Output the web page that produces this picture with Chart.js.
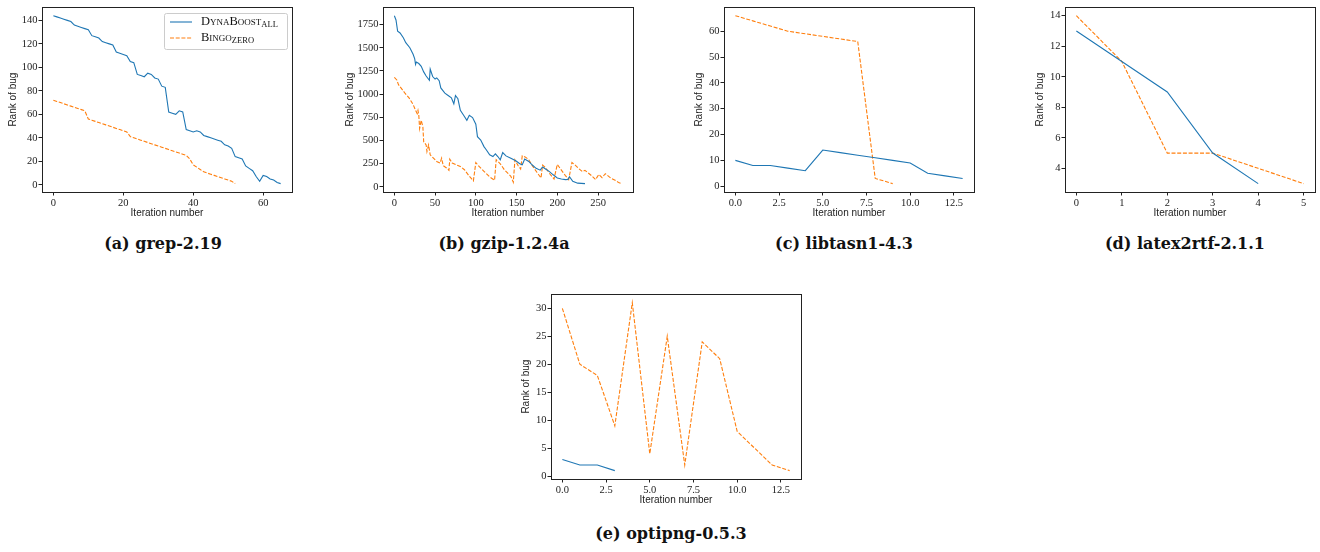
<!DOCTYPE html>
<html>
<head>
<meta charset="utf-8">
<script src="https://cdn.jsdelivr.net/npm/chart.js@4/dist/chart.umd.min.js"></script>
<style>
  body { margin: 0; background: #fff; width: 1320px; height: 552px; position: relative; overflow: hidden; }
  canvas { position: absolute; }
  .cap { position: absolute; font: bold 16px 'DejaVu Serif'; transform: translate(-50%, -50%); white-space: nowrap; color: #111; }
</style>
</head>
<body>
<div class="cap" style="left:163px;top:243px">(a) grep-2.19</div>
<div class="cap" style="left:504px;top:243px">(b) gzip-1.2.4a</div>
<div class="cap" style="left:844px;top:243px">(c) libtasn1-4.3</div>
<div class="cap" style="left:1185px;top:243px">(d) latex2rtf-2.1.1</div>
<div class="cap" style="left:671px;top:533px">(e) optipng-0.5.3</div>
<script>
// series names (legend in panel a)
const legendNames = ['DynaBoost', 'Bingo'];
const legendSubs = ['ALL', 'ZERO'];

// (a) grep-2.19 – one value per iteration
const grepDyna = [144,143,142,141,140,139,136,135,134,133,132,127,126,125,122,121,120,119,113,112,111,110,105,104,94,93,92,95,94,91,90,84,83,62,61,60,63,62,47,46,45,46,45,42,41,40,39,38,37,34,33,31,24,23,22,16,14,12,7,3,8,7,5,4,2,1];
const grepBingo = [72,71,70,69,68,67,66,65,64,63,56,55,54,53,52,51,50,49,48,47,46,45,41,40,39,38,37,36,35,34,33,32,31,30,29,28,27,26,25,22,17,15,13,11,10,9,8,7,6,5,4,3,1];
const grepXTicks = [0, 20, 40, 60];
const grepYTicks = [0, 20, 40, 60, 80, 100, 120, 140];

// (b) gzip-1.2.4a – read at selected iterations
const gzipDynaX = [0,2,4,7,11,14,19,23,25,26,27,30,33,36,39,43,44,47,50,52,55,57,62,66,70,73,75,78,81,85,89,92,96,100,102,106,110,113,117,121,124,127,130,133,137,143,149,154,157,160,165,170,174,179,182,186,190,195,200,205,210,213,215,219,225,234];
const gzipDynaY = [1846,1800,1680,1660,1608,1555,1501,1430,1380,1320,1345,1330,1300,1240,1195,1150,1270,1190,1163,1175,1145,1067,1010,985,960,896,985,950,825,772,718,772,747,676,541,505,434,398,345,327,356,327,292,370,334,309,281,249,238,299,274,230,200,180,214,190,167,130,96,85,78,80,110,60,40,35];
const gzipBingoX = [0,3,5,9,13,18,23,26,28,29,30,31,33,35,36,39,40,42,44,48,52,56,58,60,64,67,68,71,76,81,86,92,97,100,104,110,117,123,125,130,135,143,146,148,152,155,157,161,165,170,175,180,182,186,190,196,200,204,210,214,218,222,226,231,234,238,242,247,251,255,259,266,271,276,279];
const gzipBingoY = [1181,1153,1103,1057,1010,960,889,825,790,825,772,630,718,647,487,452,381,452,345,309,274,256,309,228,203,178,299,256,238,220,185,114,64,263,220,167,107,71,292,249,185,114,50,292,228,192,334,320,292,220,157,96,235,203,149,85,242,192,121,78,263,235,199,164,178,149,121,78,135,100,142,92,71,43,36];
const gzipXTicks = [0, 50, 100, 150, 200, 250];
const gzipYTicks = [0, 250, 500, 750, 1000, 1250, 1500, 1750];

// (c) libtasn1-4.3
const tasnDyna = [10,8,8,7,6,14,13,12,11,10,9,5,4,3];
const tasnBingo = [66,64,62,60,59,58,57,56,3,1];
const tasnXTicks = [0, 2.5, 5, 7.5, 10, 12.5];
const tasnYTicks = [0, 10, 20, 30, 40, 50, 60];

// (d) latex2rtf-2.1.1
const latexDyna = [13,11,9,5,3];
const latexBingo = [14,11,5,5,4,3];
const latexXTicks = [0, 1, 2, 3, 4, 5];
const latexYTicks = [4, 6, 8, 10, 12, 14];

// (e) optipng-0.5.3
const optiDyna = [3,2,2,1];
const optiBingo = [30,20,18,9,31,4,25,2,24,21,8,5,2,1];
const optiXTicks = [0, 2.5, 5, 7.5, 10, 12.5];
const optiYTicks = [0, 5, 10, 15, 20, 25, 30];

const BLUE = '#1f77b4', ORANGE = '#ff7f0e';
const PLOT_W = 250, PLOT_H = 186, PAD_T = 6, PAD_R = 5, X_H = 31;

const byIndex = arr => arr.map((v, i) => ({ x: i, y: v }));
const byXY = (xs, ys) => xs.map((x, i) => ({ x, y: ys[i] }));

const frame = {
  id: 'frame',
  afterDatasetsDraw(chart) {
    const a = chart.chartArea, ctx = chart.ctx;
    ctx.save();
    ctx.strokeStyle = '#222';
    ctx.lineWidth = 1;
    ctx.strokeRect(Math.round(a.left) + 0.5, Math.round(a.top) + 0.5, Math.round(a.right - a.left), Math.round(a.bottom - a.top));
    ctx.restore();
  }
};

const legendBox = {
  id: 'legendBox',
  afterDraw(chart) {
    const ctx = chart.ctx, a = chart.chartArea;
    const w = 123, h = 36, x = Math.round(a.right) - 5 - w, y = Math.round(a.top) + 6;
    ctx.save();
    ctx.fillStyle = 'rgba(255,255,255,0.85)';
    ctx.strokeStyle = '#ccc';
    ctx.lineWidth = 1;
    ctx.beginPath();
    ctx.roundRect(x + 0.5, y + 0.5, w, h, 2);
    ctx.fill();
    ctx.stroke();
    chart.data.datasets.forEach((ds, i) => {
      const ly = y + 9 + i * 16;
      ctx.strokeStyle = ds.borderColor;
      ctx.lineWidth = ds.borderWidth;
      ctx.setLineDash(ds.borderDash || []);
      ctx.beginPath();
      ctx.moveTo(x + 6, ly);
      ctx.lineTo(x + 28, ly);
      ctx.stroke();
      ctx.setLineDash([]);
      ctx.fillStyle = '#111';
      ctx.textBaseline = 'middle';
      ctx.font = "small-caps 12.5px 'Liberation Serif'";
      ctx.fillText(legendNames[i], x + 37, ly);
      const tw = ctx.measureText(legendNames[i]).width;
      ctx.font = "8.5px 'Liberation Serif'";
      ctx.fillText(legendSubs[i], x + 37 + tw, ly + 3);
    });
    ctx.restore();
  }
};

function makeChart(p) {
  const cv = document.createElement('canvas');
  const W = p.yW + PLOT_W + PAD_R, H = PAD_T + PLOT_H + X_H;
  cv.width = W; cv.height = H;
  cv.style.left = (p.left - p.yW) + 'px';
  cv.style.top = (p.top - PAD_T) + 'px';
  cv.style.width = W + 'px'; cv.style.height = H + 'px';
  document.body.appendChild(cv);

  const tickFont = { family: 'Liberation Serif', size: 10.5 };
  const titleFont = { family: 'Liberation Sans', size: 10 };
  const datasets = [
    { label: legendNames[0], data: p.dyna, borderColor: BLUE, borderWidth: 1.1 },
    { label: legendNames[1], data: p.bingo, borderColor: ORANGE, borderWidth: 1.1, borderDash: [4, 1.7] }
  ];

  new Chart(cv, {
    type: 'line',
    data: { datasets },
    options: {
      responsive: false,
      devicePixelRatio: 1,
      animation: false,
      layout: { padding: { top: PAD_T, right: PAD_R, left: 0, bottom: 0 } },
      elements: { point: { radius: 0 }, line: { tension: 0, fill: false } },
      plugins: { legend: { display: false }, tooltip: { enabled: false } },
      scales: {
        x: {
          type: 'linear',
          min: p.xMin, max: p.xMax,
          border: { display: false },
          grid: { drawOnChartArea: false, drawTicks: true, tickLength: 3.5, color: '#222' },
          ticks: {
            autoSkip: false, maxRotation: 0,
            padding: 1, color: '#222', font: tickFont,
            callback: p.xFmt || (v => v)
          },
          afterBuildTicks: s => { s.ticks = p.xTicks.map(v => ({ value: v })); },
          title: { display: true, text: 'Iteration number', color: '#222', font: titleFont, padding: { top: 0, bottom: 4 } },
          afterFit: s => { s.height = X_H; }
        },
        y: {
          type: 'linear',
          min: p.yMin, max: p.yMax,
          border: { display: false },
          grid: { drawOnChartArea: false, drawTicks: true, tickLength: 3.5, color: '#222' },
          ticks: {
            autoSkip: false,
            padding: 1, color: '#222', font: tickFont, callback: v => v
          },
          afterBuildTicks: s => { s.ticks = p.yTicks.map(v => ({ value: v })); },
          title: { display: true, text: 'Rank of bug', color: '#222', font: titleFont, padding: { top: 4, bottom: 0 } },
          afterFit: s => { s.width = p.yW; }
        }
      }
    },
    plugins: p.legend ? [frame, legendBox] : [frame]
  });
}

const oneDec = v => v.toFixed(1);

makeChart({ left: 42, top: 6, yW: 39, dyna: byIndex(grepDyna), bingo: byIndex(grepBingo),
  xMin: -3.25, xMax: 68.25, xTicks: grepXTicks, yMin: -6.15, yMax: 151.15, yTicks: grepYTicks, legend: true });
makeChart({ left: 383, top: 6, yW: 43, dyna: byXY(gzipDynaX, gzipDynaY), bingo: byXY(gzipBingoX, gzipBingoY),
  xMin: -13.95, xMax: 292.95, xTicks: gzipXTicks, yMin: -55.55, yMax: 1936.55, yTicks: gzipYTicks });
makeChart({ left: 724, top: 6, yW: 35, dyna: byIndex(tasnDyna), bingo: byIndex(tasnBingo),
  xMin: -0.65, xMax: 13.65, xTicks: tasnXTicks, xFmt: oneDec, yMin: -2.25, yMax: 69.25, yTicks: tasnYTicks });
makeChart({ left: 1065, top: 6, yW: 35, dyna: byIndex(latexDyna), bingo: byIndex(latexBingo),
  xMin: -0.25, xMax: 5.25, xTicks: latexXTicks, yMin: 2.45, yMax: 14.55, yTicks: latexYTicks });
makeChart({ left: 551, top: 293, yW: 35, dyna: byIndex(optiDyna), bingo: byIndex(optiBingo),
  xMin: -0.65, xMax: 13.65, xTicks: optiXTicks, xFmt: oneDec, yMin: -0.5, yMax: 32.5, yTicks: optiYTicks });
</script>
</body>
</html>
